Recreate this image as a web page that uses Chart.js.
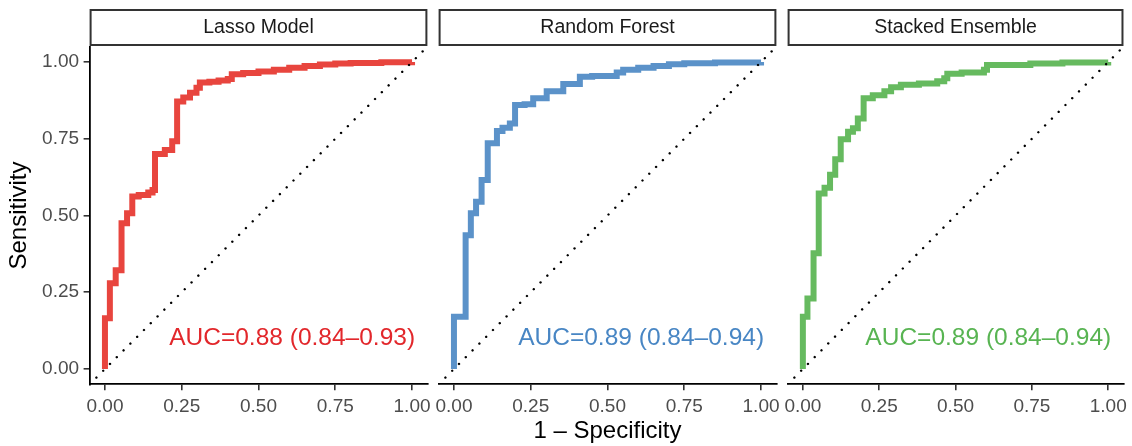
<!DOCTYPE html>
<html>
<head>
<meta charset="utf-8">
<script src="https://cdn.jsdelivr.net/npm/chart.js@4.4.1/dist/chart.umd.min.js"></script>
<style>
html,body{margin:0;padding:0;background:#fff;}
#wrap{position:relative;width:1132px;height:446px;overflow:hidden;background:#fff;}
#wrap canvas{position:absolute;left:0;top:0;}
</style>
</head>
<body>
<div id="wrap">
<canvas id="c0" width="1132" height="446"></canvas>
<canvas id="c1" width="1132" height="446"></canvas>
<canvas id="c2" width="1132" height="446"></canvas>
</div>
<script>
// ---- data ----
const panelTitles = ["Lasso Model", "Random Forest", "Stacked Ensemble"];
const aucLabels = ["AUC=0.88 (0.84\u20130.93)", "AUC=0.89 (0.84\u20130.94)", "AUC=0.89 (0.84\u20130.94)"];
const tickValues = [0, 0.25, 0.5, 0.75, 1];
const xAxisTitle = "1 \u2013 Specificity";
const yAxisTitle = "Sensitivity";

const lassoFpr = [0, 0, 0.016, 0.035, 0.054, 0.072, 0.089, 0.11, 0.141, 0.155, 0.163, 0.195, 0.219, 0.235, 0.255, 0.277, 0.298, 0.309, 0.34, 0.37, 0.40, 0.413, 0.45, 0.50, 0.55, 0.60, 0.65, 0.70, 0.75, 0.80, 0.90, 1];
const lassoTpr = [0, 0.165, 0.279, 0.322, 0.475, 0.507, 0.562, 0.567, 0.575, 0.583, 0.70, 0.713, 0.742, 0.871, 0.884, 0.90, 0.916, 0.933, 0.936, 0.94, 0.945, 0.96, 0.964, 0.969, 0.975, 0.981, 0.987, 0.992, 0.995, 0.997, 0.999, 1];

const rfFpr = [0, 0, 0.038, 0.055, 0.072, 0.09, 0.11, 0.14, 0.158, 0.182, 0.199, 0.23, 0.258, 0.302, 0.356, 0.41, 0.45, 0.53, 0.551, 0.60, 0.65, 0.70, 0.75, 0.85, 1];
const rfTpr = [0, 0.17, 0.436, 0.507, 0.545, 0.616, 0.735, 0.775, 0.786, 0.80, 0.86, 0.862, 0.882, 0.905, 0.928, 0.952, 0.954, 0.966, 0.975, 0.981, 0.987, 0.993, 0.996, 0.998, 1];

const stackFpr = [0, 0, 0.015, 0.035, 0.052, 0.071, 0.089, 0.106, 0.124, 0.148, 0.164, 0.18, 0.199, 0.229, 0.267, 0.289, 0.321, 0.38, 0.44, 0.463, 0.473, 0.52, 0.593, 0.603, 0.745, 0.85, 1];
const stackTpr = [0, 0.17, 0.23, 0.377, 0.572, 0.59, 0.633, 0.683, 0.748, 0.773, 0.784, 0.816, 0.882, 0.892, 0.905, 0.918, 0.926, 0.93, 0.937, 0.947, 0.962, 0.966, 0.975, 0.99, 0.995, 0.998, 1];

const diagX = [-0.05, 1.05];
const diagY = [-0.05, 1.05];

const seriesFpr = [lassoFpr, rfFpr, stackFpr];
const seriesTpr = [lassoTpr, rfTpr, stackTpr];
const lineColors = ["#E8453E", "#5B92C9", "#66BA5F"];
const textColors = ["#E2272B", "#4886C4", "#58B452"];

// ---- layout ----
const W = 1132, H = 446;
const panelLeft = [89.6, 438.6, 787.6];
const panelRight = [427.4, 776.4, 1125.4];
const panelTop = 46.65, panelBottom = 384.35;
const FONT = "'Liberation Sans', Arial, Helvetica, sans-serif";

function toPoints(xs, ys) { return xs.map((x, i) => ({x: x, y: ys[i]})); }

const panelPlugin = {
  id: 'panelDecor',
  afterDraw(chart) {
    const idx = chart.options.plugins.panelDecor.idx;
    const ctx = chart.ctx;
    const a = chart.chartArea;
    ctx.save();
    ctx.fillStyle = '#ffffff';
    ctx.strokeStyle = '#333333';
    ctx.lineWidth = 2;
    ctx.fillRect(a.left + 1, 10, a.right - a.left - 2, 35);
    ctx.strokeRect(a.left + 1, 10, a.right - a.left - 2, 35);
    ctx.fillStyle = '#1a1a1a';
    ctx.font = '19.5px ' + FONT;
    ctx.textAlign = 'center';
    ctx.textBaseline = 'middle';
    ctx.fillText(panelTitles[idx], (a.left + a.right) / 2, 28);
    ctx.restore();
  },
  afterDatasetsDraw(chart) {
    const idx = chart.options.plugins.panelDecor.idx;
    const ctx = chart.ctx;
    const xs = chart.scales.x, ys = chart.scales.y;
    ctx.save();
    ctx.fillStyle = textColors[idx];
    ctx.font = '24.5px ' + FONT;
    ctx.textAlign = 'right';
    ctx.textBaseline = 'middle';
    ctx.fillText(aucLabels[idx], xs.getPixelForValue(1) + 3, ys.getPixelForValue(0.1));
    ctx.restore();
  }
};

function setTicks(scale) { scale.ticks = tickValues.map(v => ({value: v})); }

for (let i = 0; i < 3; i++) {
  const isFirst = i === 0;
  const isMid = i === 1;
  new Chart(document.getElementById('c' + i), {
    type: 'line',
    data: {
      datasets: [
        {
          data: toPoints(diagX, diagY),
          borderColor: '#000000',
          borderWidth: 2.4,
          borderDash: [0.01, 9.6],
          borderCapStyle: 'round',
          pointRadius: 0,
          fill: false,
          order: 0
        },
        {
          data: toPoints(seriesFpr[i], seriesTpr[i]),
          borderColor: lineColors[i],
          borderWidth: 6,
          stepped: 'before',
          borderJoinStyle: 'miter',
          pointRadius: 0,
          fill: false,
          order: 1
        }
      ]
    },
    options: {
      responsive: false,
      animation: false,
      devicePixelRatio: 1,
      layout: {
        padding: {
          left: isFirst ? 0 : panelLeft[i],
          right: W - panelRight[i],
          top: panelTop,
          bottom: 0
        }
      },
      plugins: {
        legend: {display: false},
        tooltip: {enabled: false},
        panelDecor: {idx: i}
      },
      scales: {
        x: {
          type: 'linear',
          min: -0.05,
          max: 1.05,
          afterBuildTicks: setTicks,
          afterFit(s) { s.height = H - panelBottom; },
          border: {display: true, color: '#000000', width: 1.8},
          grid: {display: true, drawOnChartArea: false, drawTicks: true, tickLength: 6, color: '#333333', lineWidth: 1.6},
          ticks: {
            autoSkip: false, maxRotation: 0, minRotation: 0, padding: 5,
            color: '#4d4d4d', font: {family: FONT, size: 19},
            callback: v => Number(v).toFixed(2)
          },
          title: {
            display: isMid, text: xAxisTitle, color: '#000000',
            font: {family: FONT, size: 24}, padding: {top: 0, bottom: 0}
          }
        },
        y: {
          type: 'linear',
          display: isFirst,
          min: -0.05,
          max: 1.05,
          afterBuildTicks: setTicks,
          afterFit(s) { if (isFirst) s.width = panelLeft[0]; },
          border: {display: true, color: '#000000', width: 1.8},
          grid: {display: true, drawOnChartArea: false, drawTicks: true, tickLength: 6, color: '#333333', lineWidth: 1.6},
          ticks: {
            padding: 4.5, color: '#4d4d4d', font: {family: FONT, size: 19},
            callback: v => Number(v).toFixed(2)
          },
          title: {
            display: isFirst, text: yAxisTitle, color: '#000000',
            font: {family: FONT, size: 24}, padding: {top: 4.6, bottom: 0}
          }
        }
      }
    },
    plugins: [panelPlugin]
  });
}
</script>
</body>
</html>
